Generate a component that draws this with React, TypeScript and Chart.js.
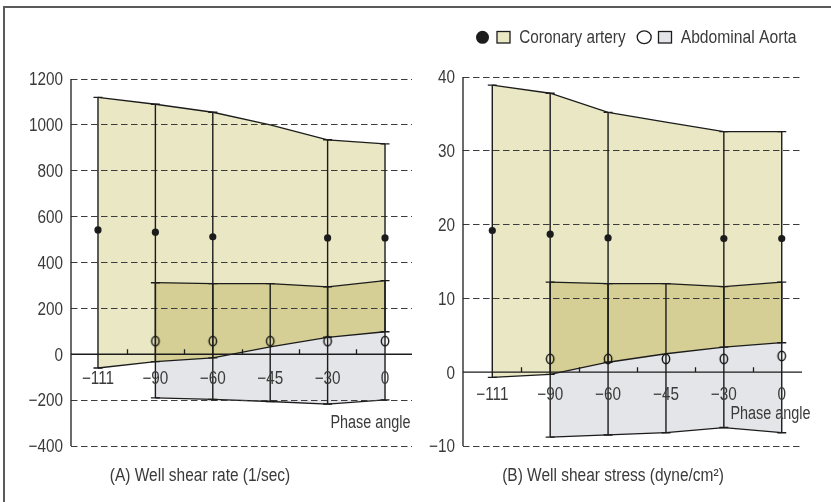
import React, { useEffect, useRef } from 'react';
import { Chart, registerables } from 'chart.js';

Chart.register(...registerables);

const FONT = '"Liberation Sans", Arial, sans-serif';
const FONT_SIZE = 18;
const INK = '#1c1c1c';
const TEXT = '#3a3a3a';
const GRID = '#3c3c3c';
const CORONARY_FILL = '#e9e7c4';
const OVERLAP_FILL = '#d5cf95';
const AORTA_FILL = '#e4e5e8';

type Num = number | null;

// Phase angles along the horizontal axis
const phaseLabels = ['\u2212111', '\u221290', '\u221260', '\u221245', '\u221230', '0'];

// (A) Well shear rate (1/sec)
const rateCoronaryMax: Num[] = [1120, 1090, 1055, 1000, 935, 917];
const rateCoronaryMin: Num[] = [-60, -32, -16, 32, 74, 98];
const rateCoronaryMean: Num[] = [542, 532, 512, null, 507, 507];
const rateAortaMax: Num[] = [null, 312, 308, 308, 294, 321];
const rateAortaMin: Num[] = [null, -190, -197, -206, -217, -199];
const rateAortaMean: Num[] = [null, 57, 57, 57, 57, 57];

// (B) Well shear stress (dyne/cm²)
const stressCoronaryMax: Num[] = [38.9, 37.8, 35.2, 33.9, 32.6, 32.6];
const stressCoronaryMin: Num[] = [-0.7, -0.3, 1.35, 2.5, 3.4, 4.0];
const stressCoronaryMean: Num[] = [19.2, 18.7, 18.2, null, 18.1, 18.1];
const stressAortaMax: Num[] = [null, 12.2, 12.0, 12.0, 11.6, 12.2];
const stressAortaMin: Num[] = [null, -8.8, -8.5, -8.2, -7.5, -8.2];
const stressAortaMean: Num[] = [null, 1.8, 1.8, 1.8, 1.8, 2.2];

interface Series {
  max: Num[];
  min: Num[];
  mean: Num[];
}

interface PanelSpec {
  yMin: number;
  yMax: number;
  yStep: number;
  xMin: number;
  xMax: number;
  axisWidth: number;
  padding: { top: number; right: number; bottom: number };
  coronary: Series;
  aorta: Series;
  labelDrop: number;
  caption: string;
  captionX: number;
  captionY: number;
  phaseX: number;
  phaseY: number;
  legend: boolean;
}

const ratePanel: PanelSpec = {
  yMin: -400,
  yMax: 1200,
  yStep: 200,
  xMin: -0.47,
  xMax: 5.47,
  axisWidth: 71,
  padding: { top: 79, right: 8, bottom: 56 },
  coronary: { max: rateCoronaryMax, min: rateCoronaryMin, mean: rateCoronaryMean },
  aorta: { max: rateAortaMax, min: rateAortaMin, mean: rateAortaMean },
  labelDrop: 29.5,
  caption: '(A) Well shear rate (1/sec)',
  captionX: 200,
  captionY: 481,
  phaseX: 370.5,
  phaseY: 428.3,
  legend: false,
};

const stressPanel: PanelSpec = {
  yMin: -10,
  yMax: 40,
  yStep: 10,
  xMin: -0.506,
  xMax: 5.35,
  axisWidth: 43,
  padding: { top: 77, right: 29, bottom: 56 },
  coronary: { max: stressCoronaryMax, min: stressCoronaryMin, mean: stressCoronaryMean },
  aorta: { max: stressAortaMax, min: stressAortaMin, mean: stressAortaMean },
  labelDrop: 27.7,
  caption: '(B) Well shear stress (dyne/cm\u00b2)',
  captionX: 193,
  captionY: 481,
  phaseX: 350.5,
  phaseY: 419,
  legend: true,
};

const toPoints = (values: Num[]) =>
  values
    .map((y, i) => ({ x: i, y }))
    .filter((p): p is { x: number; y: number } => p.y !== null);

const minus = (v: number) => (v < 0 ? '\u2212' + Math.abs(v) : String(v));

// Condensed text: regular face squeezed horizontally
function condensedText(
  ctx: CanvasRenderingContext2D,
  text: string,
  x: number,
  y: number,
  align: CanvasTextAlign,
  squeeze: number,
) {
  ctx.save();
  ctx.translate(x, y);
  ctx.scale(squeeze, 1);
  ctx.textAlign = align;
  ctx.textBaseline = 'alphabetic';
  ctx.font = `${FONT_SIZE}px ${FONT}`;
  ctx.fillStyle = TEXT;
  ctx.fillText(text, 0, 0);
  ctx.restore();
}

function ringMarker(): HTMLCanvasElement {
  const c = document.createElement('canvas');
  c.width = 12;
  c.height = 14;
  const g = c.getContext('2d')!;
  g.strokeStyle = '#111111';
  g.lineWidth = 1.4;
  g.beginPath();
  g.ellipse(6, 7, 3.7, 4.8, 0, 0, Math.PI * 2);
  g.stroke();
  return c;
}

function overlayPlugin(spec: PanelSpec) {
  return {
    id: 'rangeOverlay',
    afterDraw(chart: Chart) {
      const { ctx, chartArea: a } = chart;
      const x = chart.scales.x;
      const y = chart.scales.y;
      const zeroY = y.getPixelForValue(0);
      ctx.save();
      ctx.strokeStyle = INK;
      ctx.lineWidth = 1.4;
      ctx.lineCap = 'butt';

      // vertical range bars with short caps
      const drawBars = (s: Series) => {
        s.mean.forEach((m, i) => {
          const lo = s.min[i];
          const hi = s.max[i];
          if (m === null || lo === null || hi === null) return;
          const px = x.getPixelForValue(i);
          const top = y.getPixelForValue(hi);
          const bottom = y.getPixelForValue(lo);
          ctx.beginPath();
          ctx.moveTo(px, top);
          ctx.lineTo(px, bottom);
          ctx.moveTo(px - 4.5, top);
          ctx.lineTo(px + 4.5, top);
          ctx.moveTo(px - 4.5, bottom);
          ctx.lineTo(px + 4.5, bottom);
          ctx.stroke();
        });
      };
      drawBars(spec.coronary);
      drawBars(spec.aorta);

      // zero axis with half-step ticks
      ctx.lineWidth = 1.3;
      ctx.beginPath();
      ctx.moveTo(a.left, zeroY);
      ctx.lineTo(a.right, zeroY);
      for (let i = 0; i < phaseLabels.length - 1; i++) {
        const px = Math.round(x.getPixelForValue(i + 0.5)) + 0.5;
        ctx.moveTo(px, zeroY);
        ctx.lineTo(px, zeroY - 5);
      }
      ctx.stroke();

      // vertical value axis
      ctx.beginPath();
      ctx.moveTo(a.left, a.top);
      ctx.lineTo(a.left, a.bottom);
      ctx.stroke();

      // value tick labels
      y.ticks.forEach((t) => {
        condensedText(ctx, minus(t.value), a.left - 8, y.getPixelForValue(t.value) + 6.3, 'right', 0.85);
      });
      // phase tick labels
      phaseLabels.forEach((t, i) => condensedText(ctx, t, x.getPixelForValue(i), zeroY + spec.labelDrop, 'center', 0.85));
      condensedText(ctx, 'Phase angle', spec.phaseX, spec.phaseY, 'center', 0.8);
      condensedText(ctx, spec.caption, spec.captionX, spec.captionY, 'center', 0.86);

      if (spec.legend) {
        ctx.fillStyle = INK;
        ctx.beginPath();
        ctx.arc(62.5, 37.3, 6.5, 0, Math.PI * 2);
        ctx.fill();

        ctx.lineWidth = 1.3;
        ctx.fillStyle = CORONARY_FILL;
        ctx.fillRect(77, 31.5, 13, 11.5);
        ctx.strokeRect(77, 31.5, 13, 11.5);

        ctx.beginPath();
        ctx.ellipse(224.2, 37.3, 7, 6.4, 0, 0, Math.PI * 2);
        ctx.stroke();

        ctx.fillStyle = AORTA_FILL;
        ctx.fillRect(238.5, 31.5, 13, 11.5);
        ctx.strokeRect(238.5, 31.5, 13, 11.5);

        condensedText(ctx, 'Coronary artery', 99.3, 43, 'left', 0.85);
        condensedText(ctx, 'Abdominal Aorta', 260.7, 43, 'left', 0.87);
      }
      ctx.restore();
    },
  };
}

function buildChart(canvas: HTMLCanvasElement, spec: PanelSpec): Chart {
  const ring = ringMarker();
  const boundLine = {
    type: 'line' as const,
    borderColor: INK,
    borderWidth: 1.3,
    pointRadius: 0,
    tension: 0,
  };
  return new Chart(canvas, {
    type: 'line',
    data: {
      datasets: [
        {
          label: 'Coronary artery',
          data: toPoints(spec.coronary.mean),
          showLine: false,
          pointStyle: 'circle',
          pointRadius: 3.6,
          pointBackgroundColor: INK,
          pointBorderColor: INK,
          pointBorderWidth: 0,
          order: 0,
        },
        {
          label: 'Abdominal Aorta',
          data: toPoints(spec.aorta.mean),
          showLine: false,
          pointStyle: ring,
          pointRadius: 5,
          order: 0,
        },
        {
          ...boundLine,
          label: 'Coronary max',
          data: toPoints(spec.coronary.max),
          fill: 3,
          backgroundColor: CORONARY_FILL,
          order: 3,
        },
        {
          ...boundLine,
          label: 'Coronary min',
          data: toPoints(spec.coronary.min),
          fill: false,
          order: 1,
        },
        {
          ...boundLine,
          label: 'Aorta max',
          data: toPoints(spec.aorta.max),
          fill: 3,
          backgroundColor: OVERLAP_FILL,
          order: 2,
        },
        {
          ...boundLine,
          label: 'Aorta min',
          data: toPoints(spec.aorta.min),
          fill: 3,
          backgroundColor: AORTA_FILL,
          order: 2,
        },
      ],
    },
    options: {
      responsive: false,
      animation: false,
      devicePixelRatio: 1,
      layout: { padding: { left: 0, top: spec.padding.top, right: spec.padding.right, bottom: spec.padding.bottom } },
      plugins: {
        legend: { display: false },
        tooltip: { enabled: false },
        filler: { drawTime: 'beforeDatasetsDraw' },
      },
      scales: {
        x: {
          type: 'linear',
          display: false,
          min: spec.xMin,
          max: spec.xMax,
        },
        y: {
          type: 'linear',
          min: spec.yMin,
          max: spec.yMax,
          afterFit: (s: any) => {
            s.width = spec.axisWidth;
          },
          ticks: {
            display: false,
            stepSize: spec.yStep,
          },
          grid: {
            drawTicks: false,
            lineWidth: 1,
            z: 1,
            color: (c: any) => (c.tick && c.tick.value === 0 ? 'rgba(0,0,0,0)' : GRID),
          },
          border: {
            display: false,
            dash: [6.5, 3.5],
          },
        },
      },
    },
    plugins: [overlayPlugin(spec)],
  } as any);
}

export default function App() {
  const leftRef = useRef<HTMLCanvasElement>(null);
  const rightRef = useRef<HTMLCanvasElement>(null);

  useEffect(() => {
    document.body.style.margin = '0';
    const charts = [buildChart(leftRef.current!, ratePanel), buildChart(rightRef.current!, stressPanel)];
    return () => charts.forEach((c) => c.destroy());
  }, []);

  return (
    <div
      style={{
        position: 'absolute',
        left: 0,
        top: 0,
        width: 831,
        height: 502,
        background: '#ffffff',
        overflow: 'hidden',
      }}
    >
      <div style={{ position: 'absolute', left: 3, top: 6, width: 2, height: 496, background: '#5a5a5a' }} />
      <div style={{ position: 'absolute', left: 3, top: 6, width: 828, height: 2, background: '#5a5a5a' }} />
      <canvas ref={leftRef} width={420} height={502} style={{ position: 'absolute', left: 0, top: 0 }} />
      <canvas ref={rightRef} width={411} height={502} style={{ position: 'absolute', left: 420, top: 0 }} />
    </div>
  );
}
